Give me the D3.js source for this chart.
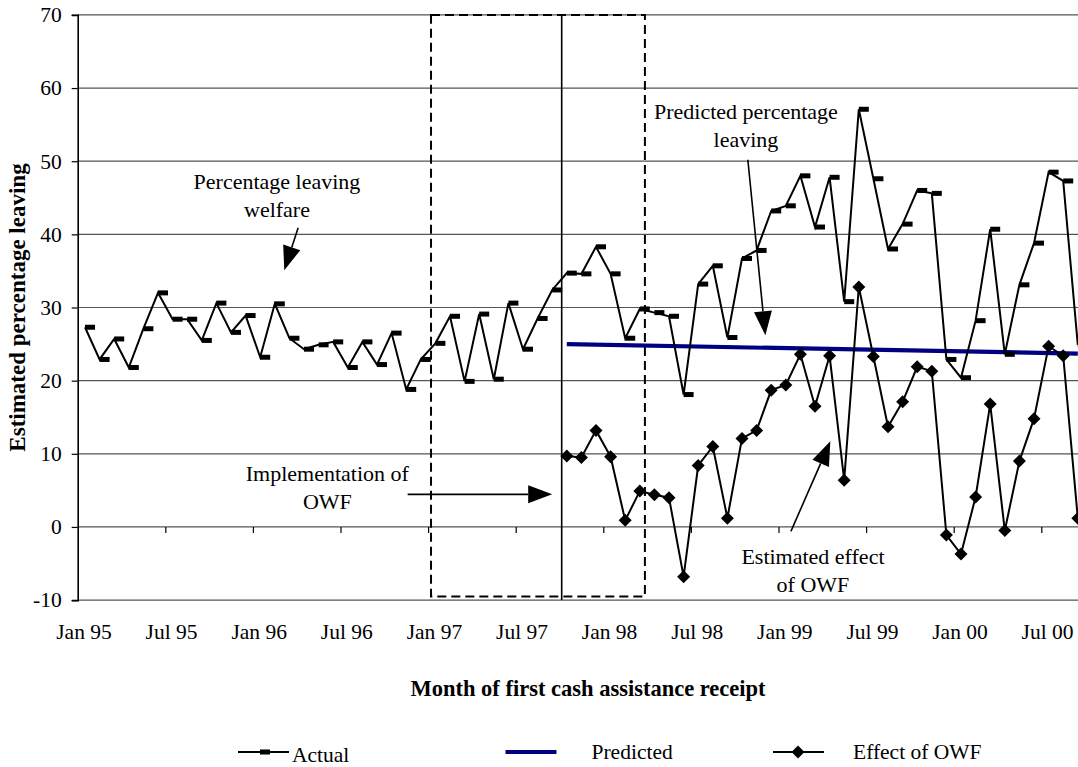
<!DOCTYPE html>
<html><head><meta charset="utf-8">
<script src="https://cdn.jsdelivr.net/npm/d3@7"></script>
<style>
body{margin:0;background:#fff}
svg{display:block}
text{font-family:"Liberation Serif","Times New Roman",Times,serif;fill:#000}
</style>
</head><body><script>
// ---------- DATA ----------
const tickLabels = ["Jan 95","Jul 95","Jan 96","Jul 96","Jan 97","Jul 97","Jan 98","Jul 98","Jan 99","Jul 99","Jan 00","Jul 00"];
const tickLabelMonths = [0, 6, 12, 18, 24, 30, 36, 42, 48, 54, 60, 66];
const yTicks = [-10, 0, 10, 20, 30, 40, 50, 60, 70];
// Actual percentage leaving welfare, one value per month from Jan 95
const actual = [27.3,22.9,25.7,21.8,27.1,32.0,28.4,28.4,25.5,30.6,26.6,28.9,
                23.2,30.5,25.8,24.3,24.9,25.3,21.8,25.3,22.2,26.5,18.8,22.9,
                25.1,28.8,19.9,29.1,20.2,30.6,24.3,28.5,32.4,34.7,34.6,38.3,
                34.6,25.8,29.8,29.3,28.8,18.1,33.2,35.7,25.9,36.7,37.8,43.2,
                43.9,48.0,41.0,47.8,30.8,57.1,47.6,38.0,41.4,46.0,45.6,22.9,
                20.4,28.2,40.7,23.6,33.1,38.8,48.5,47.3,24.9];
// Estimated effect of OWF, starting at month index 33 (Oct 97)
const effectStart = 33;
const effect = [9.7,9.5,13.2,9.6,0.9,4.9,4.4,4.0,-6.8,8.4,11.0,1.2,
                12.1,13.2,18.7,19.4,23.6,16.5,23.4,6.4,32.8,23.3,13.7,17.1,
                21.9,21.3,-1.1,-3.7,4.1,16.8,-0.5,9.0,14.8,24.7,23.4,1.2];
// Predicted percentage leaving (straight trend line)
const predictedMonths = [33, 68];
const predictedValues = [25.0, 23.7];
// Category tick boundaries (month index) before each Jan / Jul
const tickBoundaries = [5.5,11.5,17.5,23.5,29.5,35.5,41.5,47.5,53.5,59.5,65.5];
// Implementation period box and OWF start line (month index / value)
const owfBox = {from: 23.7, to: 38.35, low: -9.5, high: 70};
const owfLine = 32.65;
// Annotations (month index, value)
const notes = [
  {lines:["Percentage leaving","welfare"], tx:13.15, ty:46.2, from:[14.6,40.9], to:[13.65,35.1]},
  {lines:["Predicted percentage","leaving"], tx:45.27, ty:55.8, from:[45.4,50.2], to:[46.6,26.2]},
  {lines:["Implementation of","OWF"], tx:16.6, ty:6.3, from:[22.1,4.46], to:[32.0,4.46]},
  {lines:["Estimated effect","of OWF"], tx:49.86, ty:-5.0, from:[48.35,-0.6], to:[51.05,11.7]}
];
const legendItems = [
  {name:"Actual", kind:"actual"},
  {name:"Predicted", kind:"predicted"},
  {name:"Effect of OWF", kind:"effect"}
];

// ---------- CHART ----------
const W = 1078, H = 767;
const FONT = '"Liberation Serif","Times New Roman",serif';
const svg = d3.select("body").append("svg").attr("width", W).attr("height", H);
svg.append("rect").attr("width", W).attr("height", H).attr("fill", "#fff");

const x = d3.scaleLinear().domain([-0.5, 69.5]).range([77.7, 1099.7]);
const y = d3.scaleLinear().domain([-10, 70]).range([600.1, 14.9]);

const FS = 21.5;

// gridlines
svg.append("g").selectAll("line").data(yTicks).join("line")
  .attr("x1", x(-0.5)).attr("x2", W + 30)
  .attr("y1", d => y(d)).attr("y2", d => y(d))
  .attr("stroke", "#555").attr("stroke-width", 1.2);

// y axis
const yAx = svg.append("g").attr("transform", `translate(${x(-0.5)},0)`)
  .call(d3.axisLeft(y).tickValues(yTicks).tickSize(6).tickPadding(10).tickFormat(d => String(d)));
yAx.select(".domain").attr("stroke", "#000").attr("stroke-width", 1.6);
yAx.selectAll(".tick line").attr("stroke", "#000").attr("stroke-width", 1.2);
yAx.selectAll("text").attr("font-size", FS).attr("font-family", FONT).attr("fill", "#000");

// category axis at 0 with ticks between categories
const xAx = svg.append("g").attr("transform", `translate(0,${y(0)})`)
  .call(d3.axisBottom(x).tickValues(tickBoundaries).tickSize(6).tickFormat(""));
xAx.select(".domain").remove();
xAx.selectAll(".tick line").attr("stroke", "#000").attr("stroke-width", 1.2);

// category labels at bottom (low position)
const xlAx = svg.append("g").attr("transform", `translate(-1.5,${y(-10)})`)
  .call(d3.axisBottom(x).tickValues(tickLabelMonths).tickSize(0).tickPadding(24)
        .tickFormat((d, i) => tickLabels[i]));
xlAx.select(".domain").remove();
xlAx.selectAll("text").attr("font-size", FS).attr("font-family", FONT).attr("fill", "#000");

// implementation box (dashed) and OWF start line
svg.append("rect")
  .attr("x", x(owfBox.from)).attr("y", y(owfBox.high))
  .attr("width", x(owfBox.to) - x(owfBox.from)).attr("height", y(owfBox.low) - y(owfBox.high))
  .attr("fill", "none").attr("stroke", "#000").attr("stroke-width", 2).attr("stroke-dasharray", "9,5");
svg.append("line")
  .attr("x1", x(owfLine)).attr("x2", x(owfLine)).attr("y1", y(70)).attr("y2", y(-10))
  .attr("stroke", "#000").attr("stroke-width", 1.6);

// predicted
const predData = predictedMonths.map((m, i) => [m, predictedValues[i]]);
svg.append("path").datum(predData)
  .attr("d", d3.line().x(d => x(d[0])).y(d => y(d[1])))
  .attr("fill", "none").attr("stroke", "#000080").attr("stroke-width", 4.2);

// actual
const actData = actual.map((v, i) => [i, v]);
svg.append("path").datum(actData)
  .attr("d", d3.line().x(d => x(d[0])).y(d => y(d[1])))
  .attr("fill", "none").attr("stroke", "#000").attr("stroke-width", 2);
svg.append("g").selectAll("rect").data(actData).join("rect")
  .attr("x", d => x(d[0])).attr("y", d => y(d[1]) - 2.5)
  .attr("width", 10).attr("height", 5).attr("fill", "#000");

// effect
const effData = effect.map((v, i) => [i + effectStart, v]);
const diamond = "M0,-6.5L6.5,0L0,6.5L-6.5,0Z";
svg.append("path").datum(effData)
  .attr("d", d3.line().x(d => x(d[0])).y(d => y(d[1])))
  .attr("fill", "none").attr("stroke", "#000").attr("stroke-width", 2);
svg.append("g").selectAll("path").data(effData).join("path")
  .attr("d", diamond)
  .attr("transform", d => `translate(${x(d[0])},${y(d[1])})`)
  .attr("fill", "#000");

// annotations
function arrow(g, x1, y1, x2, y2) {
  const ang = Math.atan2(y2 - y1, x2 - x1);
  const L = 24, Wd = 9;
  const bx = x2 - L * Math.cos(ang), by = y2 - L * Math.sin(ang);
  g.append("line").attr("x1", x1).attr("y1", y1).attr("x2", bx).attr("y2", by)
    .attr("stroke", "#000").attr("stroke-width", 1.6);
  const px = -Math.sin(ang) * Wd, py = Math.cos(ang) * Wd;
  g.append("path").attr("d", `M${x2},${y2}L${bx + px},${by + py}L${bx - px},${by - py}Z`).attr("fill", "#000");
}
const ng = svg.append("g");
notes.forEach(n => {
  const t = ng.append("text").attr("x", x(n.tx)).attr("y", y(n.ty))
    .attr("text-anchor", "middle").attr("font-size", 22);
  n.lines.forEach((ln, i) => t.append("tspan").attr("x", x(n.tx)).attr("dy", i === 0 ? 0 : 28).text(ln));
  arrow(ng, x(n.from[0]), y(n.from[1]), x(n.to[0]), y(n.to[1]));
});

// axis titles
svg.append("text").attr("transform", `translate(25,${(y(70) + y(-10)) / 2}) rotate(-90)`)
  .attr("text-anchor", "middle").attr("font-size", 23).attr("font-weight", "bold")
  .text("Estimated percentage leaving");
svg.append("text").attr("x", 588).attr("y", 696)
  .attr("text-anchor", "middle").attr("font-size", 22.5).attr("font-weight", "bold")
  .text("Month of first cash assistance receipt");

// legend
const legX = d3.scalePoint().domain(legendItems.map(d => d.name)).range([238, 773]);
const lg = svg.append("g");
legendItems.forEach(it => {
  const x0 = legX(it.name), ly = 752;
  const g = lg.append("g");
  if (it.kind === "predicted") {
    g.append("line").attr("x1", x0).attr("x2", x0 + 51).attr("y1", ly).attr("y2", ly)
      .attr("stroke", "#000080").attr("stroke-width", 4.2);
    g.append("text").attr("x", x0 + 86).attr("y", ly + 7).attr("font-size", FS).text(it.name);
  } else if (it.kind === "actual") {
    g.append("line").attr("x1", x0).attr("x2", x0 + 51).attr("y1", ly).attr("y2", ly)
      .attr("stroke", "#000").attr("stroke-width", 2);
    g.append("rect").attr("x", x0 + 22).attr("y", ly - 2.5).attr("width", 10).attr("height", 5).attr("fill", "#000");
    g.append("text").attr("x", x0 + 54).attr("y", ly + 10).attr("font-size", FS).text(it.name);
  } else {
    g.append("line").attr("x1", x0).attr("x2", x0 + 51).attr("y1", ly).attr("y2", ly)
      .attr("stroke", "#000").attr("stroke-width", 2);
    g.append("path").attr("d", diamond).attr("transform", `translate(${x0 + 25},${ly})`).attr("fill", "#000");
    g.append("text").attr("x", x0 + 80).attr("y", ly + 7).attr("font-size", FS).text(it.name);
  }
});
</script></body></html>
